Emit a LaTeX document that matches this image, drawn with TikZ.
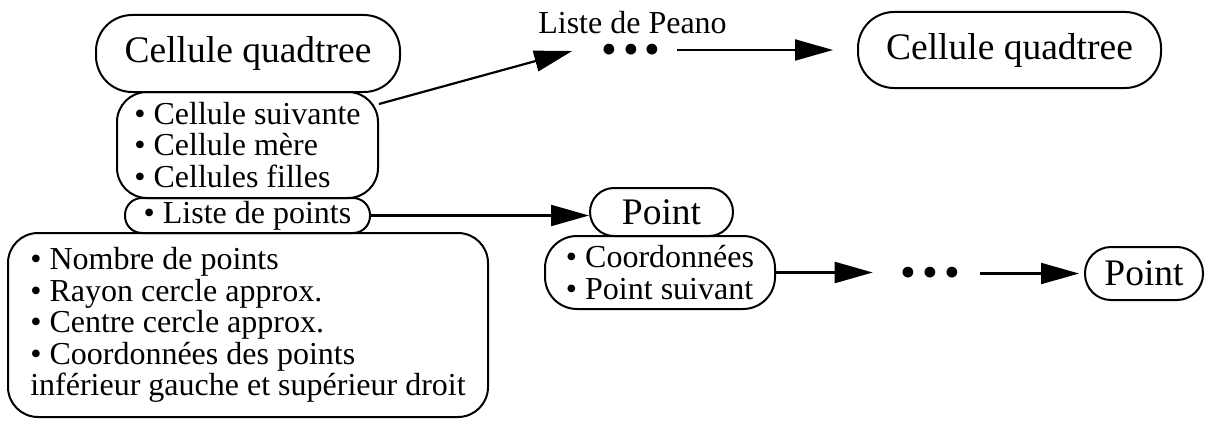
\documentclass[tikz,border=0pt]{standalone}
\usepackage{fontspec}
\setmainfont{Liberation Serif}
\usetikzlibrary{arrows.meta,calc}

\begin{document}
\begin{tikzpicture}[x=1pt,y=-1pt,
  boite/.style={draw, line width=2pt, rounded corners=#1, inner sep=0pt},
  boite/.default=25pt,
  grand/.style={font={\fontsize{37.5}{40}\selectfont}},
  petit/.style={font={\fontsize{32}{31.5}\selectfont\lineskiplimit=-100pt}},
  points/.style={font={\fontsize{45}{45}\selectfont}, inner sep=0pt, anchor=base, text height=16pt, text depth=0pt},
  fleche/.style={line width=2.2pt, -{Triangle[length=38pt,width=21pt]}}]
  \useasboundingbox (0,0) rectangle (1206,420);

  % cellule de gauche
  \node[boite=36pt, grand, minimum width=304pt, minimum height=77pt] at (248,53.5) (cq1) {Cellule quadtree};
  \node[boite=30pt, petit, align=left, minimum width=261pt, minimum height=106pt] at (247.5,145) (champs) {• Cellule suivante\\• Cellule mère\\• Cellules filles};
  \node[boite=17pt, petit, minimum width=245pt, minimum height=35pt] at (247.5,215.5) (lpts) {• Liste de points};
  \node[boite=30pt, petit, align=left, minimum width=480pt, minimum height=184pt] at (248,325) (infos) {• Nombre de points\\• Rayon cercle approx.\\• Centre cercle approx.\\• Coordonnées des points\\inférieur gauche et supérieur droit};

  % liste de Peano
  \node[petit, anchor=base] at (632.5,34) (peano) {Liste de Peano};
  \node[points] at (631,64.5) (dots1) {•\hspace{6pt}•\hspace{6pt}•};
  \node[boite=36pt, grand, minimum width=303pt, minimum height=76pt] at (1009.5,50) (cq2) {Cellule quadtree};

  % liste de points
  \node[boite=24pt, grand, minimum width=143pt, minimum height=48pt] at (661.5,212) (pt1) {Point};
  \node[boite=32pt, petit, align=left, minimum width=230pt, minimum height=73pt] at (660,272.5) (coord) {• Coordonnées\\• Point suivant};
  \node[points] at (930.5,287.5) (dots2) {•\hspace{6pt}•\hspace{6pt}•};
  \node[boite=26pt, grand, minimum width=118pt, minimum height=53pt] at (1144,273.5) (pt2) {Point};

  \draw[fleche] ([yshift=-13pt]champs.north east) -- ($(dots1.west |- cq2.west)+(-29,1)$);
  \draw[fleche, shorten <=16pt, shorten >=24pt] (dots1.east |- cq2.west) -- (cq2.west);
  \draw[fleche] (lpts.east) -- (lpts.east -| pt1.west);
  \draw[fleche, shorten >=28pt] (coord.east) -- (dots2.west |- coord.east);
  \draw[fleche, shorten <=20pt, shorten >=5pt] (dots2.east |- pt2.west) -- (pt2.west);
\end{tikzpicture}
\end{document}
